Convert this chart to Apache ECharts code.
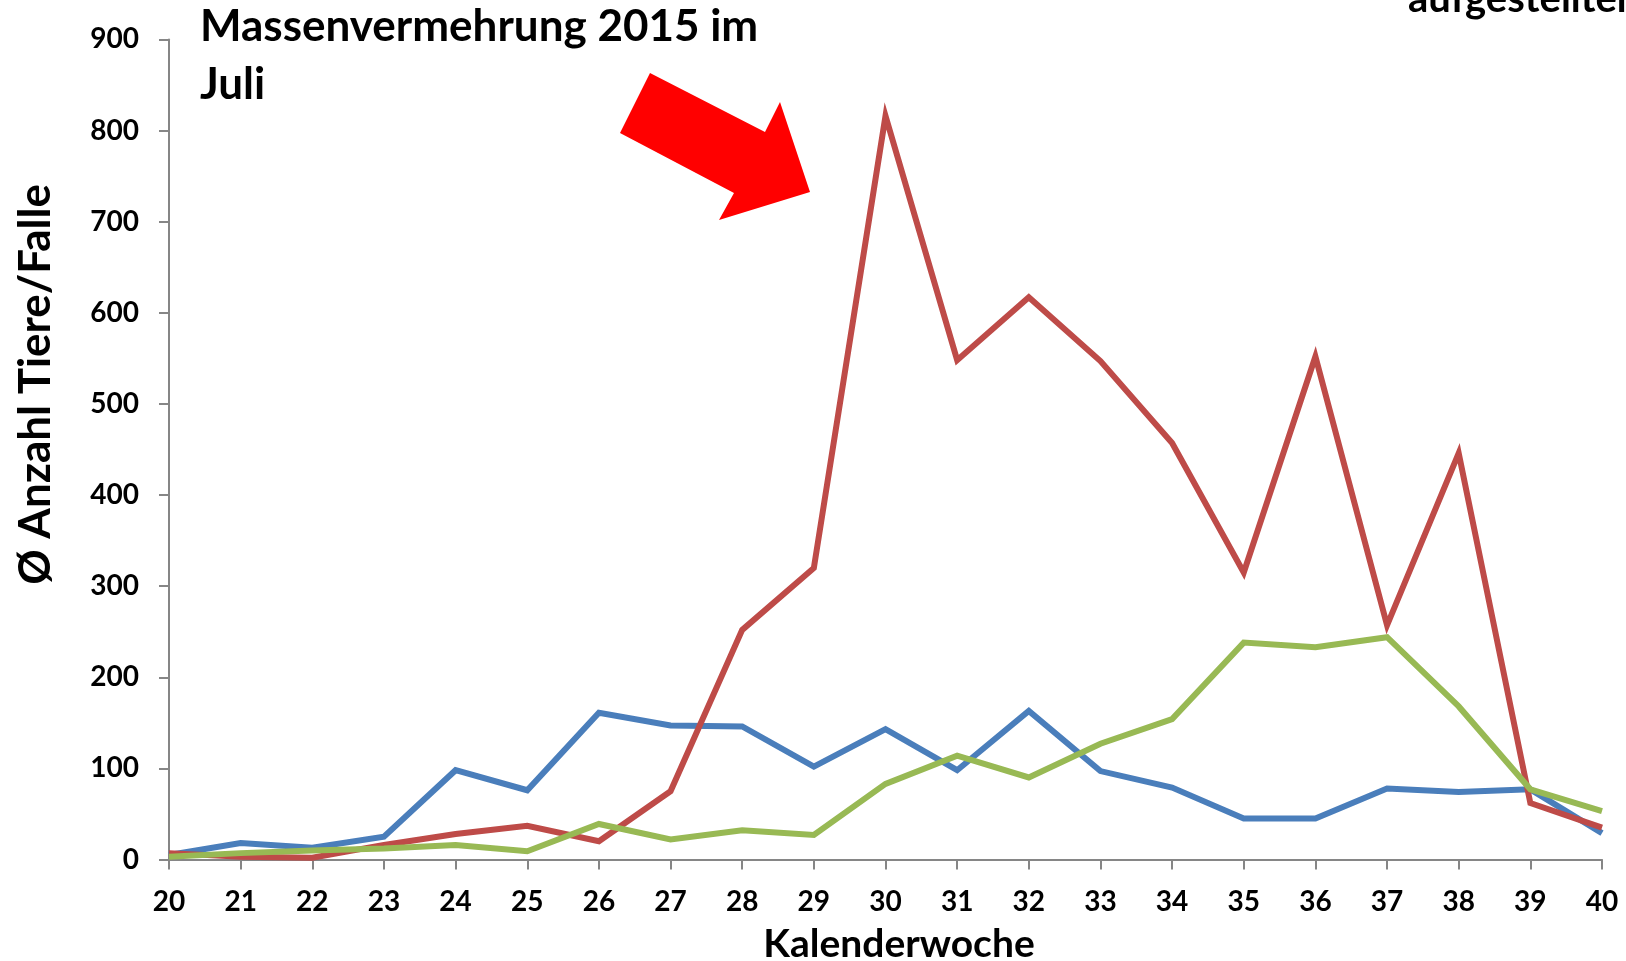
<!DOCTYPE html>
<html>
<head>
<meta charset="utf-8">
<script src="https://cdn.jsdelivr.net/npm/echarts@6/dist/echarts.min.js"></script>
<style>
html,body{margin:0;padding:0;background:#fff;}
#c{width:1626px;height:961px;}
</style>
</head>
<body>
<div id="c"></div>
<script>
const weeks = ['20','21','22','23','24','25','26','27','28','29','30','31','32','33','34','35','36','37','38','39','40'];
const blueValues  = [5, 18, 13, 25, 98, 76, 161, 147, 146, 102, 143, 98, 163, 97, 79, 45, 45, 78, 74, 77, 29];
const redValues   = [7, 3, 2, 16, 28, 37, 20, 75, 252, 320, 816, 548, 617, 547, 457, 315, 552, 257, 446, 62, 35];
const greenValues = [3, 7, 10, 12, 16, 9, 39, 22, 32, 27, 83, 114, 90, 127, 154, 238, 233, 244, 168, 77, 53];
const yTicks = { min: 0, max: 900, interval: 100 };

const FONT = 'Lato, "Liberation Sans", sans-serif';
const chart = echarts.init(document.getElementById('c'));
function line(name, data, color) {
  return {
    name, type: 'line', data, symbol: 'none',
    lineStyle: { color, width: 6, join: 'miter' },
    itemStyle: { color }
  };
}
chart.setOption({
  animation: false,
  backgroundColor: '#fff',
  grid: { left: 169, right: 24, top: 39.4, bottom: 101.5, containLabel: false, outerBoundsMode: 'none' },
  xAxis: {
    type: 'category', data: weeks, boundaryGap: false,
    name: 'Kalenderwoche', nameLocation: 'middle', nameGap: 65,
    nameTextStyle: { fontFamily: FONT, fontWeight: 'bold', fontSize: 39, color: '#000', padding: [0, 0, 0, 27] },
    axisLine: { lineStyle: { color: '#868686', width: 2 } },
    axisTick: { show: true, length: 10, alignWithLabel: true, lineStyle: { color: '#868686', width: 2 } },
    axisLabel: { fontFamily: FONT, fontWeight: 'bold', fontSize: 28, color: '#000', margin: 28 },
    splitLine: { show: false }
  },
  yAxis: {
    type: 'value', min: yTicks.min, max: yTicks.max, interval: yTicks.interval,
    name: 'Ø Anzahl Tiere/Falle', nameLocation: 'middle', nameGap: 111,
    nameTextStyle: { fontFamily: FONT, fontWeight: 'bold', fontSize: 44, color: '#000', padding: [0, 0, 0, 130] },
    axisLine: { show: true, lineStyle: { color: '#868686', width: 2 } },
    axisTick: { show: true, length: 10, lineStyle: { color: '#868686', width: 2 } },
    axisLabel: { fontFamily: FONT, fontWeight: 'bold', fontSize: 28, color: '#000', margin: 30 },
    splitLine: { show: false }
  },
  series: [
    line('Blau', blueValues, '#4A7EBB'),
    line('Rot', redValues, '#BE4B48'),
    line('Grün', greenValues, '#98B954')
  ],
  graphic: [
    {
      type: 'text', left: 200, top: -2,
      style: { text: 'Massenvermehrung 2015 im\nJuli', font: 'bold 44px ' + FONT, fill: '#000', lineHeight: 58 }
    },
    {
      type: 'text', left: 1408, top: -21,
      style: { text: 'aufgestellten Fallen', font: 'bold 40px ' + FONT, fill: '#000' }
    },
    {
      type: 'polygon',
      shape: { points: [[650,73],[620,133],[734,193],[719,220],[810,192],[780,102],[765,132]] },
      style: { fill: '#FF0000' }
    }
  ]
});
</script>
</body>
</html>
